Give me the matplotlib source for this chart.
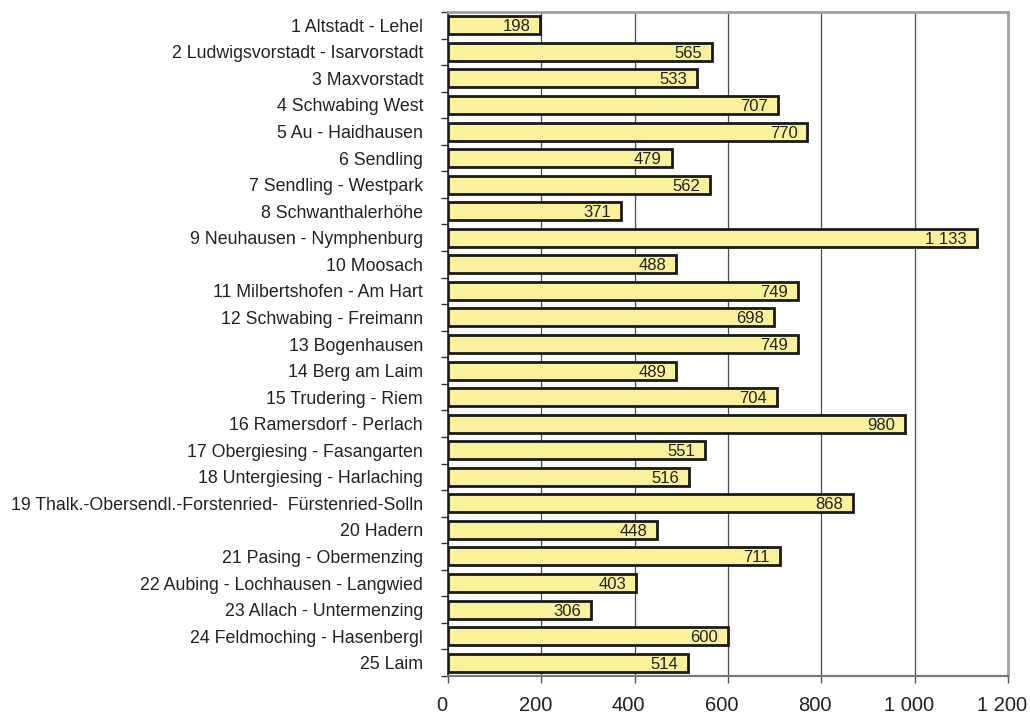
import matplotlib.pyplot as plt
import matplotlib.transforms as mtransforms
import numpy as np

plt.rcParams['font.family'] = ['Liberation Sans', 'DejaVu Sans']

districts = [
    '1 Altstadt - Lehel',
    '2 Ludwigsvorstadt - Isarvorstadt',
    '3 Maxvorstadt',
    '4 Schwabing West',
    '5 Au - Haidhausen',
    '6 Sendling',
    '7 Sendling - Westpark',
    '8 Schwanthalerhöhe',
    '9 Neuhausen - Nymphenburg',
    '10 Moosach',
    '11 Milbertshofen - Am Hart',
    '12 Schwabing - Freimann',
    '13 Bogenhausen',
    '14 Berg am Laim',
    '15 Trudering - Riem',
    '16 Ramersdorf - Perlach',
    '17 Obergiesing - Fasangarten',
    '18 Untergiesing - Harlaching',
    '19 Thalk.-Obersendl.-Forstenried-  Fürstenried-Solln',
    '20 Hadern',
    '21 Pasing - Obermenzing',
    '22 Aubing - Lochhausen - Langwied',
    '23 Allach - Untermenzing',
    '24 Feldmoching - Hasenbergl',
    '25 Laim',
]
values = [198, 565, 533, 707, 770, 479, 562, 371, 1133, 488, 749, 698, 749,
          489, 704, 980, 551, 516, 868, 448, 711, 403, 306, 600, 514]
xticks = [0, 200, 400, 600, 800, 1000, 1200]


def fmt(v):
    return f"{v:,}".replace(",", " ")


fig = plt.figure(figsize=(10.3, 7.16), dpi=100)
ax = fig.add_axes([0.435, 0.0559, 0.5436, 0.9273])

y = np.arange(len(values))
ax.barh(y, values, height=0.68, color='#F9F19C', edgecolor='#1a1a1a',
        linewidth=2, zorder=3)

for yi, v in zip(y, values):
    ax.annotate(fmt(v), (v, yi), xytext=(-7, 0), textcoords='offset points',
                ha='right', va='center_baseline', fontsize=12, color='#222222',
                zorder=4)

ax.set_xlim(0, 1200)
ax.set_ylim(len(values) - 0.5, -0.5)
ax.set_xticks(xticks)
ax.set_xticklabels([])
# x labels sit slightly left of their ticks
xlab_tr = ax.get_xaxis_transform() + mtransforms.ScaledTranslation(
    -6 / 100, -20 / 100, fig.dpi_scale_trans)
for t in xticks:
    ax.text(t, 0, fmt(t), transform=xlab_tr, ha='center', va='top',
            fontsize=14.5, color='#222222', clip_on=False)

ax.set_yticks(y)
ax.set_yticklabels(districts, fontsize=12.8, color='#222222')
ax.set_yticks(np.arange(len(values) + 1) - 0.5, minor=True)
ax.tick_params(axis='y', which='major', length=0, pad=18)
ax.tick_params(axis='y', which='minor', length=5, width=1, color='#333333')
ax.tick_params(axis='x', length=5, width=1, color='#555555')

ax.grid(axis='x', color='#4a4a4a', linewidth=0.9, zorder=0)
for side in ['top', 'right']:
    ax.spines[side].set_color('#a0a0a0')
    ax.spines[side].set_linewidth(2)
ax.spines['bottom'].set_color('#7a7a7a')
ax.spines['bottom'].set_linewidth(1.6)
ax.spines['left'].set_color('#222222')
ax.spines['left'].set_linewidth(1.2)

fig.savefig('out.png', dpi=100)
